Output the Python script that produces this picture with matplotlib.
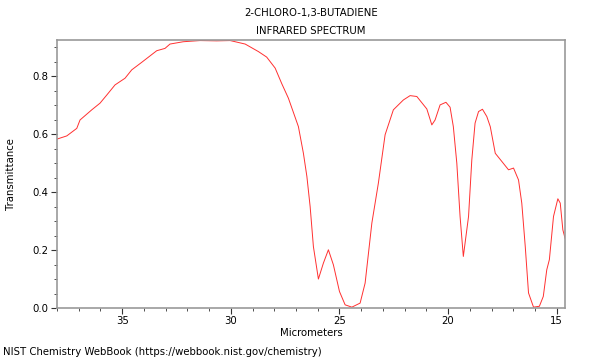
import matplotlib
matplotlib.use("Agg")
import matplotlib.pyplot as plt
from matplotlib.ticker import MultipleLocator

# spectrum (micrometers, transmittance)
microns = [38.0, 37.55, 37.09, 36.94, 36.4, 36.02, 35.71, 35.33, 34.87, 34.56,
           34.1, 33.41, 33.03, 32.8, 32.19, 31.42, 30.65, 30.03, 29.34, 28.73,
           28.35, 27.96, 27.66, 27.35, 27.04, 26.89, 26.66, 26.5, 26.35, 26.2,
           25.97, 25.74, 25.51, 25.28, 25.0, 24.74, 24.43, 24.05, 23.82, 23.51,
           23.21, 22.9, 22.52, 22.06, 21.75, 21.44, 20.98, 20.75, 20.6, 20.37,
           20.1, 19.91, 19.76, 19.6, 19.45, 19.3, 19.06, 18.91, 18.76, 18.6,
           18.42, 18.22, 18.06, 17.83, 17.53, 17.22, 16.99, 16.76, 16.61, 16.45,
           16.3, 16.07, 15.8, 15.62, 15.46, 15.34, 15.15, 14.95, 14.84, 14.72,
           14.62]
transmittance = [0.583, 0.594, 0.62, 0.649, 0.684, 0.707, 0.735, 0.77, 0.793, 0.822,
                 0.848, 0.888, 0.896, 0.911, 0.919, 0.923, 0.922, 0.923, 0.911, 0.885,
                 0.866, 0.828, 0.775, 0.724, 0.658, 0.626, 0.534, 0.454, 0.35, 0.212,
                 0.1, 0.155, 0.201, 0.149, 0.057, 0.011, 0.003, 0.017, 0.086, 0.293,
                 0.431, 0.598, 0.684, 0.718, 0.733, 0.73, 0.687, 0.632, 0.649, 0.701,
                 0.71, 0.693, 0.626, 0.5, 0.316, 0.178, 0.316, 0.511, 0.638, 0.678,
                 0.686, 0.661, 0.626, 0.534, 0.506, 0.477, 0.483, 0.442, 0.362, 0.212,
                 0.052, 0.003, 0.006, 0.04, 0.132, 0.167, 0.316, 0.377, 0.362, 0.27,
                 0.241]

title = "2-CHLORO-1,3-BUTADIENE\nINFRARED SPECTRUM"
credit = "NIST Chemistry WebBook (https://webbook.nist.gov/chemistry)"

fs = 7.3

fig = plt.figure(figsize=(6, 3.6), dpi=100)
ax = fig.add_axes([0.095, 0.1444, 0.8467, 0.7445])

ax.plot(microns, transmittance, color="#ff3030", lw=0.7)

ax.set_xlim(38.0, 14.62)
ax.set_ylim(0, 0.925)
ax.xaxis.set_major_locator(MultipleLocator(5))
ax.xaxis.set_minor_locator(MultipleLocator(1))
ax.yaxis.set_major_locator(MultipleLocator(0.2))
ax.yaxis.set_minor_locator(MultipleLocator(0.05))
ax.yaxis.set_major_formatter(plt.FuncFormatter(lambda v, p: f"{v:.1f}"))
ax.tick_params(labelsize=fs, length=4, pad=2, color="#333333")
ax.tick_params(which="minor", length=2.5, color="#333333")

for s in ax.spines.values():
    s.set_color("#999999")
    s.set_linewidth(1.2)

ax.set_xlabel("Micrometers", fontsize=fs)
ax.xaxis.set_label_coords(0.5, -0.076)
ax.set_ylabel("Transmittance", fontsize=fs)
ax.yaxis.set_label_coords(-0.081, 0.5)
ax.set_title(title, fontsize=fs, linespacing=2.0, pad=4)
fig.text(0.005, 0.021, credit, fontsize=fs, va="center")

fig.savefig("out.png", dpi=100)
